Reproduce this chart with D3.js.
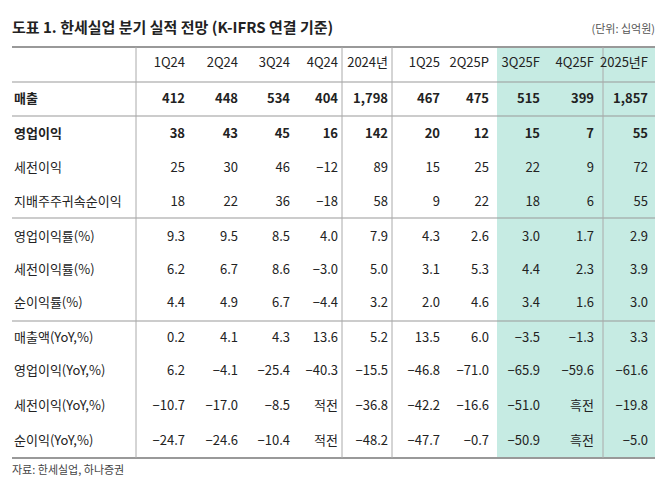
<!DOCTYPE html><html><head><meta charset="utf-8"><script src="https://cdn.jsdelivr.net/npm/d3@7"></script>
<style>body{margin:0;background:#fff}svg{font-family:"Noto Sans CJK KR",sans-serif}</style></head><body><svg width="670" height="484"></svg>
<script>
const columns=["1Q24","2Q24","3Q24","4Q24","2024년","1Q25","2Q25P","3Q25F","4Q25F","2025년F"];
const rowLabels=["매출","영업이익","세전이익","지배주주귀속순이익","영업이익률(%)","세전이익률(%)","순이익률(%)","매출액(YoY,%)","영업이익(YoY,%)","세전이익(YoY,%)","순이익(YoY,%)"];
const boldRows=["매출","영업이익"];
const values=[
["412","448","534","404","1,798","467","475","515","399","1,857"],
["38","43","45","16","142","20","12","15","7","55"],
["25","30","46","-12","89","15","25","22","9","72"],
["18","22","36","-18","58","9","22","18","6","55"],
["9.3","9.5","8.5","4.0","7.9","4.3","2.6","3.0","1.7","2.9"],
["6.2","6.7","8.6","-3.0","5.0","3.1","5.3","4.4","2.3","3.9"],
["4.4","4.9","6.7","-4.4","3.2","2.0","4.6","3.4","1.6","3.0"],
["0.2","4.1","4.3","13.6","5.2","13.5","6.0","-3.5","-1.3","3.3"],
["6.2","-4.1","-25.4","-40.3","-15.5","-46.8","-71.0","-65.9","-59.6","-61.6"],
["-10.7","-17.0","-8.5","적전","-36.8","-42.2","-16.6","-51.0","흑전","-19.8"],
["-24.7","-24.6","-10.4","적전","-48.2","-47.7","-0.7","-50.9","흑전","-5.0"]];
const svg=d3.select("svg");
const rightEdges=[185,238,290,338,388,440,489,540,594,648];
const x=d3.scaleOrdinal().domain(columns).range(rightEdges);
const rowY=[98,133,167,201,236,269,302,337,370,405,440];
const y=d3.scaleOrdinal().domain(rowLabels).range(rowY);
// teal
svg.append("rect").attr("x",497).attr("y",47).attr("width",158).attr("height",411).attr("fill","#c6ebe3");
svg.append("text").attr("x",12).attr("y",33).attr("font-size",15).attr("font-weight","bold").attr("fill","#222").text("도표 1. 한세실업 분기 실적 전망 (K-IFRS 연결 기준)");
svg.append("text").attr("x",655).attr("y",33).attr("font-size",11).attr("text-anchor","end").attr("fill","#555").text("(단위: 십억원)");
const hl=(yy,w)=>svg.append("line").attr("x1",12).attr("x2",655).attr("y1",yy).attr("y2",yy).attr("stroke","#999").attr("stroke-width",w);
hl(47,2);hl(82,1);hl(116,1);hl(218,1);hl(321,1);hl(458,2);
[136,342,392,603].forEach(v=>svg.append("line").attr("x1",v).attr("x2",v).attr("y1",47).attr("y2",458).attr("stroke","#aaa"));
svg.selectAll(".h").data(columns).join("text").attr("x",d=>x(d)).attr("y",67).attr("text-anchor","end").attr("font-size",13).attr("fill","#222").text(d=>d);
const rows=svg.selectAll(".r").data(rowLabels).join("g").attr("transform",d=>`translate(0,${y(d)+5})`);
rows.append("text").attr("x",14).attr("font-size",13).attr("fill","#222").attr("font-weight",d=>boldRows.includes(d)?"bold":"normal").text(d=>d);
rows.each(function(d,i){d3.select(this).selectAll("text.v").data(values[i]).join("text").attr("class","v").attr("x",(v,j)=>x(columns[j])).attr("text-anchor","end").attr("font-size",13).attr("fill","#222").attr("font-weight",boldRows.includes(d)?"bold":"normal").text(v=>v.replace(/^-/,"−"));});
svg.append("text").attr("x",12).attr("y",474).attr("font-size",11).attr("fill","#444").text("자료: 한세실업, 하나증권");
</script></body></html>
